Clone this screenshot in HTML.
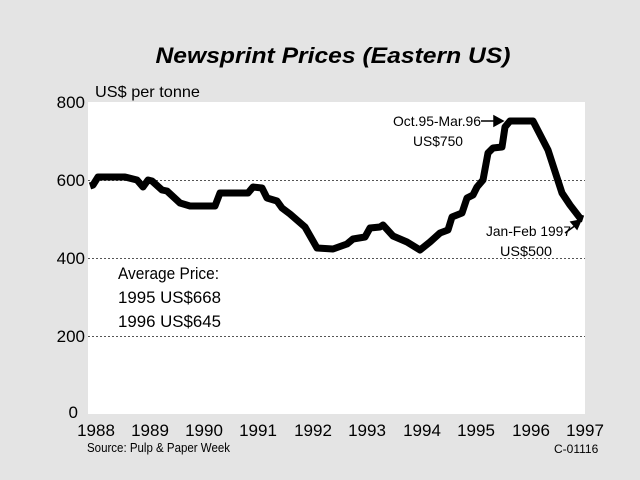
<!DOCTYPE html>
<html><head><meta charset="utf-8"><style>
html,body{margin:0;padding:0;background:#e4e4e4;}
svg{display:block;}
text{font-family:"Liberation Sans",sans-serif;fill:#000;}
</style></head><body>
<svg width="640" height="480" viewBox="0 0 640 480" xmlns="http://www.w3.org/2000/svg">
<rect width="640" height="480" fill="#e4e4e4"/>
<rect x="88" y="102" width="497" height="312" fill="#fff"/>
<g stroke="#555" stroke-width="1" stroke-dasharray="2,2">
<line x1="88" y1="180.5" x2="585" y2="180.5"/>
<line x1="88" y1="258.5" x2="585" y2="258.5"/>
<line x1="88" y1="336.5" x2="585" y2="336.5"/>
</g>
<text x="333" y="63" text-anchor="middle" font-size="22" font-weight="bold" font-style="italic" textLength="355" lengthAdjust="spacingAndGlyphs">Newsprint Prices (Eastern US)</text>
<text x="95" y="97" font-size="16" textLength="105" lengthAdjust="spacingAndGlyphs">US$ per tonne</text>
<g font-size="17" text-anchor="end">
<text x="85" y="108">800</text>
<text x="85" y="186">600</text>
<text x="85" y="264">400</text>
<text x="85" y="342">200</text>
<text x="78" y="418">0</text>
</g>
<g font-size="17" text-anchor="middle">
<text x="96" y="436">1988</text><text x="150" y="436">1989</text><text x="204" y="436">1990</text><text x="258" y="436">1991</text><text x="313" y="436">1992</text><text x="367" y="436">1993</text><text x="422" y="436">1994</text><text x="476" y="436">1995</text><text x="531" y="436">1996</text><text x="585" y="436">1997</text>
</g>
<text x="87" y="452" font-size="13" textLength="143" lengthAdjust="spacingAndGlyphs">Source: Pulp &amp; Paper Week</text>
<text x="554" y="453" font-size="12">C-01116</text>
<g font-size="17">
<text x="118" y="279" textLength="101" lengthAdjust="spacingAndGlyphs">Average Price:</text>
<text x="118" y="303" textLength="103" lengthAdjust="spacingAndGlyphs">1995 US$668</text>
<text x="118" y="327" textLength="103" lengthAdjust="spacingAndGlyphs">1996 US$645</text>
</g>
<g font-size="14">
<text x="393" y="126" textLength="88" lengthAdjust="spacingAndGlyphs">Oct.95-Mar.96</text>
<text x="413" y="146" textLength="50" lengthAdjust="spacingAndGlyphs">US$750</text>
<text x="486" y="236" textLength="85" lengthAdjust="spacingAndGlyphs">Jan-Feb 1997</text>
<text x="500" y="256" textLength="52" lengthAdjust="spacingAndGlyphs">US$500</text>
</g>
<g stroke="#000" stroke-width="1.5" fill="#000">
<line x1="481" y1="121" x2="495" y2="121"/>
<polygon points="494,116 503,121 494,126"/>
<line x1="565" y1="233" x2="576" y2="225"/>
<polygon points="571,222 581,220 577,229"/>
</g>
<polyline fill="none" stroke="#000" stroke-width="7" stroke-linejoin="round" points="90,186 93,185 98,177 125,177 137,180 143,187 148,180 152,181 162,190 167,191 180,203 190,206 215,206 220,193 248,193 253,187 262,188 267,198 277,201 282,208 290,214 305,227 317,248 333,249 347,244 353,239 365,237 370,228 380,227 383,225 393,236 407,242 420,250 430,242 440,233 448,230 452,217 462,213 467,198 473,195 477,187 483,180 488,153 493,148 502,147 505,127 510,121 533,121 548,150 562,193 570,205 580,218 583,219"/>
</svg>
</body></html>
